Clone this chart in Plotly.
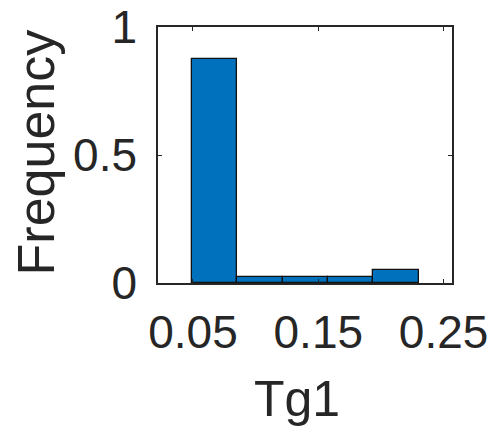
import plotly.graph_objects as go

# Histogram of Tg1 (normalised to relative frequency)
bin_start = 0.0492
bin_width = 0.03616
frequency = [0.875, 0.025, 0.025, 0.025, 0.05]

x_ticks = [0.05, 0.15, 0.25]
x_tick_labels = ["0.05", "0.15", "0.25"]
y_ticks = [0, 0.5, 1]
y_tick_labels = ["0", "0.5", "1"]

centers = [bin_start + bin_width * (i + 0.5) for i in range(len(frequency))]

axis_color = "#262626"
font_family = "Liberation Sans, Arial, sans-serif"

fig = go.Figure(
    go.Bar(
        x=centers,
        y=frequency,
        width=[bin_width] * len(frequency),
        marker=dict(color="#0072BD", line=dict(color="#111111", width=1.3)),
        hoverinfo="skip",
    )
)

axis_common = dict(
    automargin=False,
    showgrid=False,
    zeroline=False,
    showline=True,
    linecolor=axis_color,
    linewidth=1.5,
    mirror="allticks",
    ticks="inside",
    ticklen=4,
    tickwidth=1,
    tickcolor=axis_color,
    tickfont=dict(family=font_family, size=46, color=axis_color),
)

fig.update_xaxes(
    range=[0.0221, 0.2567],
    tickvals=x_ticks,
    ticktext=x_tick_labels,
    ticklabelstandoff=8,
    **axis_common,
)
fig.update_yaxes(
    range=[0, 1],
    tickvals=y_ticks,
    ticktext=y_tick_labels,
    ticklabelstandoff=10,
    **axis_common,
)

# Axis titles placed as annotations relative to the plot area
fig.add_annotation(
    text="Tg1", xref="paper", yref="paper", x=0.473, y=0,
    xanchor="center", yanchor="middle", yshift=-116, showarrow=False,
    font=dict(family=font_family, size=50, color=axis_color),
)
fig.add_annotation(
    text="Frequency", xref="paper", yref="paper", x=0, y=0.51,
    xanchor="center", yanchor="middle", xshift=-122, textangle=-90, showarrow=False,
    font=dict(family=font_family, size=52, color=axis_color),
)

fig.update_layout(
    width=494,
    height=430,
    margin=dict(l=158, r=42, t=27, b=147),
    plot_bgcolor="white",
    paper_bgcolor="white",
    showlegend=False,
    bargap=0,
)

fig.write_html("out.html")
